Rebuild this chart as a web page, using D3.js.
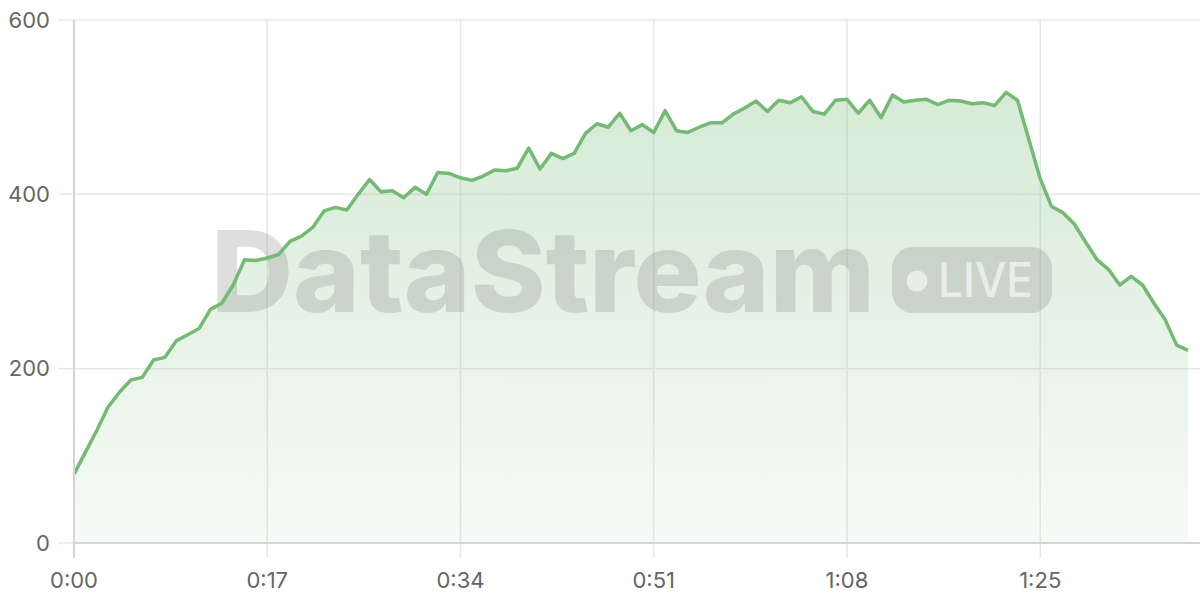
<!DOCTYPE html>
<html>
<head>
<meta charset="utf-8">
<script src="https://cdn.jsdelivr.net/npm/d3@7"></script>
<style>
  body { margin: 0; background: #fff; }
  svg { display: block; font-family: Inter, "Noto Sans", sans-serif; }
</style>
</head>
<body>
<svg id="chart" width="1200" height="600"></svg>
<script>
// seconds since start, one sample per second
var seconds = d3.range(0, 99);
var values = [
  79, 104, 129, 156, 173, 187, 190, 210, 213, 232,
  239, 246, 268, 275, 296, 325, 324, 327, 331, 346,
  352, 362, 381, 385, 382, 400, 417, 403, 404, 396,
  408, 400, 425, 424, 419, 416, 421, 428, 427, 430,
  453, 429, 447, 441, 447, 470, 481, 477, 493, 473,
  480, 471, 496, 473, 471, 477, 482, 482, 492, 499,
  507, 495, 508, 505, 512, 495, 492, 508, 509, 493,
  508, 488, 514, 506, 508, 509, 503, 508, 507, 504,
  505, 502, 517, 508, 463, 418, 386, 379, 366, 345,
  325, 314, 296, 306, 296, 275, 256, 227, 221
];
var xTicks = [0, 17, 34, 51, 68, 85];
var yTicks = [0, 200, 400, 600];

var svg = d3.select("#chart");
// plot box (note: "top" is taken by window.top)
var pLeft = 74, pRight = 1188, pTop = 20, pBottom = 543;

var x = d3.scaleLinear().domain([0, 98]).range([pLeft, pRight]);
var y = d3.scaleLinear().domain([0, 600]).range([pBottom, pTop]);

function fmt(s) {
  var m = Math.floor(s / 60), r = s % 60;
  return m + ":" + (r < 10 ? "0" + r : r);
}

var data = seconds.map(function(s, i) { return { t: s, v: values[i] }; });

// gradient for the area
var defs = svg.append("defs");
var grad = defs.append("linearGradient")
  .attr("id", "fillGrad")
  .attr("gradientUnits", "userSpaceOnUse")
  .attr("x1", 0).attr("y1", y(520)).attr("x2", 0).attr("y2", pBottom);
grad.append("stop").attr("offset", "0%").attr("stop-color", "#74b974").attr("stop-opacity", 0.3);
grad.append("stop").attr("offset", "100%").attr("stop-color", "#74b974").attr("stop-opacity", 0.06);

// grid
svg.append("g").selectAll("line").data(yTicks).enter().append("line")
  .attr("x1", 58).attr("x2", 1200)
  .attr("y1", function(d) { return y(d); }).attr("y2", function(d) { return y(d); })
  .attr("stroke", "#e8e8e8").attr("stroke-width", 1.5);
svg.append("g").selectAll("line").data(xTicks).enter().append("line")
  .attr("x1", function(d) { return x(d); }).attr("x2", function(d) { return x(d); })
  .attr("y1", pTop).attr("y2", 558)
  .attr("stroke", "#e8e8e8").attr("stroke-width", 1.5);

// area
svg.append("path").datum(data)
  .attr("fill", "url(#fillGrad)")
  .attr("d", d3.area().x(function(d) { return x(d.t); }).y0(pBottom).y1(function(d) { return y(d.v); }));

// watermark
var wm = svg.append("g").attr("pointer-events", "none");
wm.append("text")
  .attr("x", 211).attr("y", 312)
  .attr("font-size", 113).attr("font-weight", 800)
  .attr("textLength", 664).attr("lengthAdjust", "spacingAndGlyphs")
  .attr("fill", "#888").attr("fill-opacity", 0.28)
  .text("DataStream");
wm.append("rect")
  .attr("x", 892).attr("y", 247).attr("width", 160).attr("height", 66).attr("rx", 21)
  .attr("fill", "#888").attr("fill-opacity", 0.28);
wm.append("circle")
  .attr("cx", 917).attr("cy", 281).attr("r", 10.5)
  .attr("fill", "#fff").attr("fill-opacity", 0.6);
wm.append("text")
  .attr("x", 938).attr("y", 297)
  .attr("font-size", 48).attr("font-weight", 500)
  .attr("textLength", 95).attr("lengthAdjust", "spacingAndGlyphs")
  .attr("fill", "#fff").attr("fill-opacity", 0.6)
  .text("LIVE");

// line
svg.append("path").datum(data)
  .attr("fill", "none")
  .attr("stroke", "#74b974").attr("stroke-width", 3.5)
  .attr("stroke-linejoin", "round")
  .attr("d", d3.line().x(function(d) { return x(d.t); }).y(function(d) { return y(d.v); }));

// axis lines
svg.append("line").attr("x1", pLeft).attr("x2", pLeft).attr("y1", pTop).attr("y2", 558)
  .attr("stroke", "#d4d4d4").attr("stroke-width", 2);
svg.append("line").attr("x1", pLeft).attr("x2", 1200).attr("y1", pBottom).attr("y2", pBottom)
  .attr("stroke", "#d4d4d4").attr("stroke-width", 2);

// labels
svg.append("g").selectAll("text").data(yTicks).enter().append("text")
  .attr("x", 50).attr("y", function(d) { return y(d); })
  .attr("dy", "0.35em").attr("text-anchor", "end")
  .attr("font-size", 22).attr("fill", "#666")
  .text(function(d) { return d; });
svg.append("g").selectAll("text").data(xTicks).enter().append("text")
  .attr("x", function(d) { return x(d); }).attr("y", 588)
  .attr("text-anchor", "middle")
  .attr("font-size", 22).attr("fill", "#666")
  .text(function(d) { return fmt(d); });
</script>
</body>
</html>
